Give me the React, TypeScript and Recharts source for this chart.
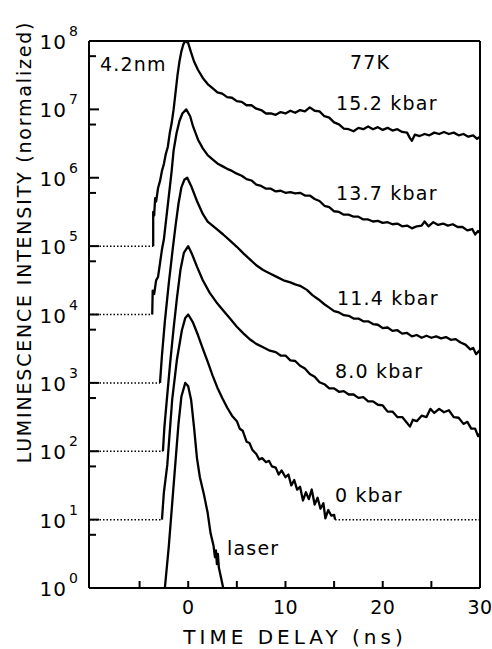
import { LineChart, Line, XAxis, YAxis } from 'recharts';

// plot frame (px inside the 492x649 picture)
const W = 492;
const H = 649;
const LEFT = 89;
const RIGHT = 480;
const TOP = 41;
const BOTTOM = 588;
const FONT = '"DejaVu Sans", sans-serif';

// time axis (ns) and intensity decades
const xDomain: [number, number] = [-10.2, 30];
const xTicks = [-5, 0, 5, 10, 15, 20, 25, 30];
const xLabelled = [0, 10, 20, 30];
const decades = [1, 1e1, 1e2, 1e3, 1e4, 1e5, 1e6, 1e7, 1e8];
const minorTicks = [6, 6e1, 6e2, 6e3, 6e4, 6e5, 6e6, 6e7];

// curves as [time ns, log10 intensity]
const s152 = [
  [-3.6, 5], [-3.6, 5.5], [-3.5, 5.45], [-3.4, 5.7], [-3.3, 5.65], [-3.1, 5.85], [-2.9, 5.95],
  [-2.7, 6.1], [-2.5, 6.2], [-2.3, 6.35], [-2.1, 6.45], [-1.9, 6.65], [-1.7, 6.8], [-1.5, 7.0],
  [-1.3, 7.25], [-1.1, 7.5], [-0.9, 7.7], [-0.7, 7.85], [-0.5, 7.95], [-0.3, 8.0],
  [0, 7.97], [0.3, 7.83], [0.6, 7.7], [1, 7.58], [1.5, 7.46], [2, 7.37], [2.5, 7.31], [3, 7.25],
  [3.5, 7.23], [4, 7.18], [4.5, 7.17], [5, 7.12], [5.5, 7.11], [6, 7.06], [6.5, 7.06], [7, 7.01],
  [7.5, 6.99], [8, 6.94], [8.5, 6.94], [9, 6.92], [9.5, 6.96], [10, 6.94], [10.5, 6.98], [11, 6.95],
  [11.5, 6.99], [12, 6.97], [12.5, 7.03], [13, 6.98], [13.5, 6.97], [14, 6.9], [14.5, 6.88],
  [15, 6.81], [15.5, 6.78], [16, 6.72], [16.5, 6.71], [17, 6.68], [17.5, 6.73], [18, 6.71],
  [18.5, 6.75], [19, 6.71], [19.5, 6.74], [20, 6.7], [20.5, 6.73], [21, 6.69], [21.5, 6.71],
  [22, 6.67], [22.5, 6.66], [22.8, 6.58], [23, 6.54], [23.3, 6.63], [23.8, 6.61], [24.3, 6.64],
  [24.8, 6.62], [25.3, 6.66], [25.8, 6.64], [26.3, 6.67], [26.8, 6.64], [27.3, 6.66], [27.8, 6.62],
  [28.3, 6.64], [28.8, 6.6], [29.3, 6.62], [29.7, 6.57], [30, 6.6],
];

const s137 = [
  [-3.7, 4], [-3.65, 4.35], [-3.5, 4.3], [-3.3, 4.5], [-3.1, 4.55], [-2.9, 4.75], [-2.7, 4.95],
  [-2.5, 5.1], [-2.3, 5.35], [-2.1, 5.6], [-1.9, 5.85], [-1.7, 6.1], [-1.5, 6.4], [-1.2, 6.65],
  [-0.9, 6.83], [-0.6, 6.94], [-0.2, 7.0],
  [0.2, 6.9], [0.5, 6.75], [1, 6.56], [1.5, 6.43], [2, 6.33], [2.5, 6.27], [3, 6.21], [3.5, 6.17],
  [4, 6.13], [4.5, 6.1], [5, 6.06], [5.5, 6.03], [6, 5.98], [6.5, 5.96], [7, 5.9], [7.5, 5.88],
  [8, 5.84], [8.5, 5.84], [9, 5.8], [9.5, 5.81], [10, 5.78], [10.5, 5.79], [11, 5.77], [11.5, 5.78],
  [12, 5.74], [12.5, 5.74], [13, 5.69], [13.5, 5.66], [14, 5.59], [14.5, 5.57], [15, 5.51],
  [15.5, 5.5], [16, 5.46], [16.5, 5.46], [17, 5.43], [17.5, 5.43], [18, 5.39], [18.5, 5.39],
  [19, 5.36], [19.5, 5.37], [20, 5.34], [20.5, 5.35], [21, 5.32], [21.5, 5.33], [22, 5.29],
  [22.5, 5.3], [23, 5.26], [23.5, 5.29], [24, 5.3], [24.3, 5.36], [24.7, 5.29], [25.2, 5.35],
  [25.7, 5.31], [26.2, 5.33], [26.7, 5.3], [27.2, 5.32], [27.7, 5.28], [28.2, 5.28], [28.7, 5.23],
  [29.2, 5.25], [29.5, 5.17], [29.8, 5.22], [30, 5.19],
];

const s114 = [
  [-2.9, 3], [-2.7, 3.4], [-2.4, 3.9], [-2.0, 4.45], [-1.6, 4.95], [-1.3, 5.3], [-1.0, 5.62],
  [-0.7, 5.86], [-0.4, 5.97], [-0.1, 6.0],
  [0.3, 5.88], [0.9, 5.66], [1.5, 5.47], [2, 5.36], [2.5, 5.3], [3, 5.24], [3.6, 5.17], [4.3, 5.08],
  [5, 4.99], [5.7, 4.89], [6.4, 4.8], [7, 4.72], [7.7, 4.65], [8.4, 4.6], [9.1, 4.55], [9.8, 4.5],
  [10.5, 4.47], [11, 4.44], [11.5, 4.42], [12.2, 4.36], [12.8, 4.28], [13.4, 4.22], [14, 4.15],
  [14.5, 4.1], [15, 4.05], [15.5, 4.03], [16, 3.99], [16.5, 3.98], [17, 3.94], [17.5, 3.94],
  [18, 3.9], [18.5, 3.9], [19, 3.86], [19.5, 3.85], [20, 3.8], [20.5, 3.81], [21, 3.76],
  [21.5, 3.77], [22, 3.72], [22.5, 3.73], [23, 3.68], [23.5, 3.7], [24, 3.66], [24.5, 3.69],
  [25, 3.66], [25.5, 3.68], [26, 3.65], [26.5, 3.67], [27, 3.63], [27.5, 3.64], [28, 3.59],
  [28.5, 3.56], [29, 3.49], [29.3, 3.51], [29.6, 3.42], [30, 3.48],
];

const s80 = [
  [-2.6, 2], [-2.45, 2.35], [-2.2, 2.75], [-1.85, 3.3], [-1.5, 3.8], [-1.15, 4.25], [-0.8, 4.65],
  [-0.45, 4.9], [0, 5.0],
  [0.4, 4.88], [0.9, 4.7], [1.5, 4.5], [2.2, 4.32], [3, 4.16], [3.6, 4.06], [4.3, 3.94], [5, 3.82],
  [5.7, 3.72], [6.4, 3.63], [7, 3.57], [7.7, 3.52], [8.4, 3.47], [9, 3.45], [9.5, 3.4], [10, 3.4],
  [10.5, 3.33], [11, 3.32], [11.5, 3.25], [12, 3.21], [12.5, 3.13], [13, 3.09], [13.5, 3.01],
  [14, 2.98], [14.5, 2.92], [15, 2.92], [15.5, 2.87], [16, 2.88], [16.5, 2.83], [17, 2.83],
  [17.5, 2.78], [18, 2.79], [18.5, 2.73], [19, 2.73], [19.5, 2.68], [20, 2.67], [20.5, 2.58],
  [21, 2.58], [21.5, 2.5], [22, 2.5], [22.4, 2.43], [22.8, 2.36], [23.1, 2.46], [23.5, 2.44],
  [24, 2.52], [24.5, 2.5], [24.9, 2.62], [25.3, 2.56], [25.8, 2.62], [26.3, 2.57], [26.8, 2.6],
  [27.3, 2.5], [27.8, 2.49], [28.3, 2.4], [28.7, 2.43], [29.1, 2.33], [29.5, 2.33], [29.8, 2.22],
  [30, 2.26],
];

const s0 = [
  [-2.7, 1], [-2.5, 1.4], [-2.15, 1.8], [-1.65, 2.75], [-1.15, 3.35], [-0.65, 3.77], [-0.3, 3.95],
  [0, 4.0],
  [0.5, 3.88], [1, 3.7], [1.5, 3.5], [2, 3.31], [2.5, 3.11], [3, 2.93], [3.5, 2.78], [4, 2.64],
  [4.5, 2.52], [5, 2.44], [5.3, 2.33], [5.6, 2.3], [6, 2.14], [6.3, 2.12], [6.6, 2.02], [7, 1.96],
  [7.3, 1.88], [7.6, 1.9], [8, 1.84], [8.3, 1.86], [8.6, 1.78], [9, 1.76], [9.3, 1.66], [9.6, 1.72],
  [10, 1.62], [10.3, 1.66], [10.6, 1.5], [10.9, 1.58], [11.2, 1.44], [11.5, 1.48], [11.8, 1.28],
  [12.1, 1.4], [12.4, 1.3], [12.7, 1.44], [13, 1.22], [13.3, 1.32], [13.6, 1.16], [13.9, 1.24],
  [14.1, 1.02], [14.4, 1.14], [14.7, 1.06], [15.0, 1.07], [15.1, 1.0],
];

const sLaser = [
  [-2.4, 0], [-2.0, 0.6], [-1.5, 1.5], [-1.0, 2.4], [-0.7, 2.8], [-0.3, 3.0], [0, 2.95],
  [0.3, 2.75], [0.6, 2.35], [0.9, 1.9], [1.2, 1.62], [1.6, 1.38], [2.0, 1.1], [2.3, 0.8],
  [2.6, 0.62], [2.75, 0.45], [2.85, 0.55], [2.95, 0.35], [3.05, 0.5], [3.15, 0.3], [3.3, 0.2],
  [3.6, 0],
];

// dotted noise floors
const floors = [
  [[-10.2, 5], [-3.6, 5]],
  [[-10.2, 4], [-3.7, 4]],
  [[-10.2, 3], [-2.9, 3]],
  [[-10.2, 2], [-2.6, 2]],
  [[-10.2, 1], [-2.7, 1]],
  [[15.1, 1], [30, 1]],
];

const toPts = (s: number[][]) => s.map(([t, lg]) => ({ t, v: Math.pow(10, lg) }));

const curves = [s152, s137, s114, s80, s0, sLaser];

const LeftTick = (p: any) => {
  const v = p.payload.value;
  const major = decades.includes(v);
  const n = Math.round(Math.log10(v));
  return (
    <g>
      <line x1={LEFT} x2={LEFT + (major ? 10 : 7)} y1={p.y} y2={p.y} stroke="#000" strokeWidth={2} />
      {major && (
        <text fontFamily={FONT} fill="#000">
          <tspan x={67} y={p.y + 8} fontSize={20} textAnchor="end" letterSpacing={1}>10</tspan>
          <tspan x={69} y={p.y - 5} fontSize={14}>{n}</tspan>
        </text>
      )}
    </g>
  );
};

const RightTick = (p: any) => {
  const major = decades.includes(p.payload.value);
  return <line x1={RIGHT} x2={RIGHT - (major ? 10 : 7)} y1={p.y} y2={p.y} stroke="#000" strokeWidth={2} />;
};

const BottomTick = (p: any) => {
  const v = p.payload.value;
  return (
    <g>
      <line x1={p.x} x2={p.x} y1={BOTTOM} y2={BOTTOM - 7} stroke="#000" strokeWidth={2} />
      {xLabelled.includes(v) && (
        <text x={p.x} y={BOTTOM + 26} textAnchor="middle" fontSize={19} fontFamily={FONT} letterSpacing={0.5}>
          {v}
        </text>
      )}
    </g>
  );
};

const TopTick = (p: any) => (
  <line x1={p.x} x2={p.x} y1={TOP} y2={TOP + 7} stroke="#000" strokeWidth={2} />
);

const notes = [
  { text: '4.2nm', x: 100, y: 71 },
  { text: '77K', x: 350, y: 69 },
  { text: '15.2 kbar', x: 336, y: 110 },
  { text: '13.7 kbar', x: 336, y: 200 },
  { text: '11.4 kbar', x: 337, y: 305 },
  { text: '8.0 kbar', x: 335, y: 378 },
  { text: '0 kbar', x: 335, y: 502 },
  { text: 'laser', x: 227, y: 555 },
];

const yTitleX = 31;
const yTitleY = 242;

export default function App() {
  return (
    <div style={{ position: 'absolute', left: 0, top: 0, width: W, height: H, background: '#fff' }}>
      <LineChart width={W} height={H} margin={{ top: 0, right: 0, bottom: 0, left: 0 }}>
        <XAxis
          dataKey="t"
          type="number"
          domain={xDomain}
          ticks={xTicks}
          interval={0}
          allowDataOverflow
          height={H - BOTTOM}
          axisLine={{ stroke: '#000', strokeWidth: 2 }}
          tickLine={false}
          tick={(p: any) => <BottomTick {...p} />}
        />
        <XAxis
          xAxisId="top"
          orientation="top"
          type="number"
          domain={xDomain}
          ticks={xTicks}
          interval={0}
          height={TOP}
          axisLine={{ stroke: '#000', strokeWidth: 2 }}
          tickLine={false}
          tick={(p: any) => <TopTick {...p} />}
        />
        <YAxis
          type="number"
          scale="log"
          domain={[1, 1e8]}
          allowDataOverflow
          ticks={[...decades, ...minorTicks]}
          interval={0}
          width={LEFT}
          axisLine={{ stroke: '#000', strokeWidth: 2 }}
          tickLine={false}
          tick={(p: any) => <LeftTick {...p} />}
        />
        <YAxis
          yAxisId="r"
          orientation="right"
          type="number"
          scale="log"
          domain={[1, 1e8]}
          ticks={[...decades, ...minorTicks]}
          interval={0}
          width={W - RIGHT}
          axisLine={{ stroke: '#000', strokeWidth: 2 }}
          tickLine={false}
          tick={(p: any) => <RightTick {...p} />}
        />
        {floors.map((f, i) => (
          <Line
            key={'f' + i}
            data={toPts(f)}
            dataKey="v"
            type="linear"
            stroke="#000"
            strokeWidth={1.5}
            strokeDasharray="1.5 2"
            dot={false}
            isAnimationActive={false}
          />
        ))}
        {curves.map((c, i) => (
          <Line
            key={'c' + i}
            data={toPts(c)}
            dataKey="v"
            type="linear"
            stroke="#000"
            strokeWidth={2.3}
            strokeLinejoin="round"
            dot={false}
            isAnimationActive={false}
          />
        ))}
      </LineChart>
      <svg width={W} height={H} style={{ position: 'absolute', left: 0, top: 0, pointerEvents: 'none' }}>
        {notes.map((n) => (
          <text key={n.text} x={n.x} y={n.y} fontSize={19} fontFamily={FONT} letterSpacing={1.2} fill="#000">
            {n.text}
          </text>
        ))}
        <text
          x={yTitleX}
          y={yTitleY}
          transform={`rotate(-90 ${yTitleX} ${yTitleY})`}
          textAnchor="middle"
          fontSize={19}
          fontFamily={FONT}
          letterSpacing={1.8}
        >
          LUMINESCENCE INTENSITY (normalized)
        </text>
        <text x={295} y={644} textAnchor="middle" fontSize={20} fontFamily={FONT} letterSpacing={4}>
          TIME DELAY (ns)
        </text>
      </svg>
    </div>
  );
}
